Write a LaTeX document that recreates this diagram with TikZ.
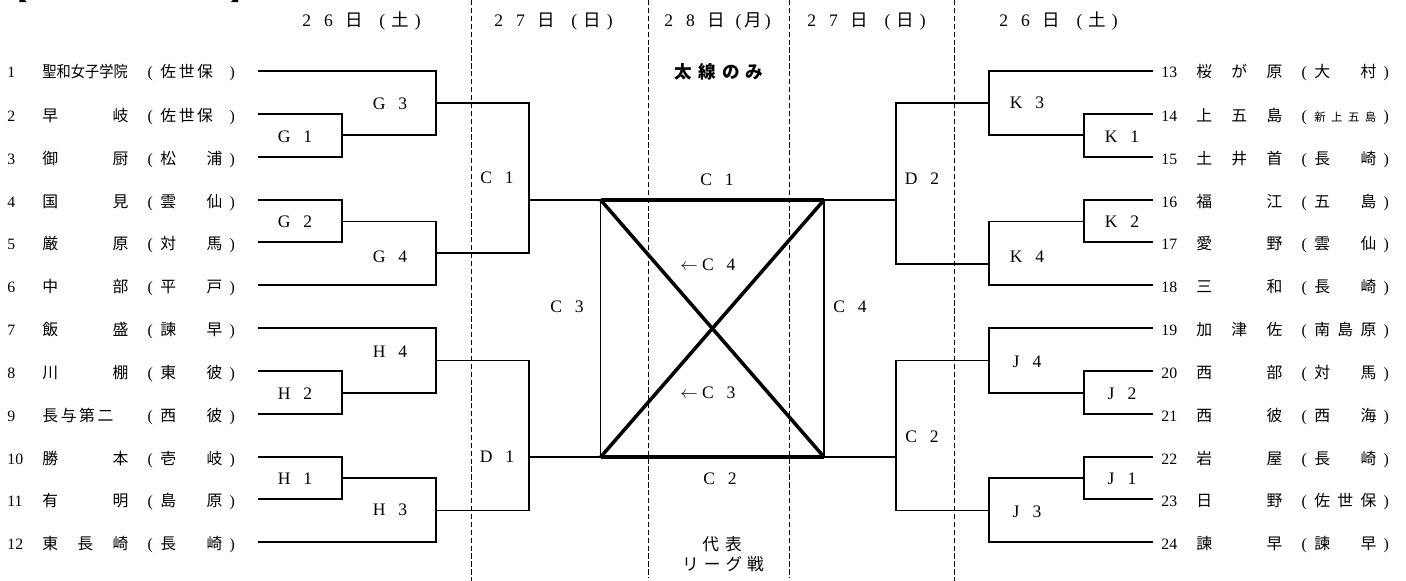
\documentclass[tikz,border=0pt]{standalone}
\usepackage{fontspec}
\usepackage{graphicx}
\setmainfont{Liberation Serif}
\newfontfamily\jp{Noto Sans CJK JP}
\newlength{\unitpx}
\setlength{\unitpx}{0.02cm}
% Zeile: Nummer, Schule, Ort
\newcommand{\team}[3]{\makebox[35\unitpx][l]{#1}\makebox[86\unitpx][l]{\jp #2}\hspace{12\unitpx}\makebox[20\unitpx]{(}\makebox[62\unitpx][l]{\jp #3}\makebox[20\unitpx]{)}}
% Spielbezeichnung
\newcommand{\spiel}[2]{#1\hspace{13\unitpx}#2}
% Datum: Abstaende, Ziffern, Wochentag
\newcommand{\datum}[6]{#4\hspace{#1\unitpx}#5\hspace{#1\unitpx}{\jp 日}\hspace{#2\unitpx}(\hspace{#3\unitpx}{\jp #6}\hspace{#3\unitpx})}
\begin{document}
\begin{tikzpicture}[x=0.02cm, y=-0.02cm,
    linie/.style={line width=0.6pt},
    dick/.style={line width=2pt},
    trenn/.style={line width=0.5pt, dash pattern=on 3pt off 1.5pt},
    mann/.style={anchor=base west, inner sep=0pt, font=\fontsize{9}{11}\selectfont},
    spielnr/.style={inner sep=0pt, font=\fontsize{10}{12}\selectfont},
    kopf/.style={anchor=base west, inner sep=0pt, font=\fontsize{10}{12}\selectfont}]
    \useasboundingbox (0,0) rectangle (1406,581);

    % zeichne Titel (abgeschnitten)
    \node[anchor=base west, inner sep=0pt, font=\jp\fontsize{14}{14}\selectfont] (kl) at (3.5,1) {【};
    \node[anchor=base west, inner sep=0pt, font=\jp\fontsize{14}{14}\selectfont] (kr) at (230,1) {】};

    % zeichne Trennlinien
    \draw[trenn] (471.7,0) -- (471.7,581);
    \draw[trenn] (648.7,0) -- (648.7,578);
    \draw[trenn] (789.3,0) -- (789.3,578);
    \draw[trenn] (954.3,0) -- (954.3,581);

    % zeichne Tage
    \node[kopf] (tag1) at (302,27) {\datum{13}{16}{6}{2}{6}{土}};
    \node[kopf] (tag2) at (494,27) {\datum{13}{16}{6}{2}{7}{日}};
    \node[kopf] (tag3) at (664,27) {\datum{13}{10}{3}{2}{8}{月}};
    \node[kopf] (tag4) at (807,27) {\datum{13}{16}{6}{2}{7}{日}};
    \node[kopf] (tag5) at (999,27) {\datum{13}{16}{6}{2}{6}{土}};

    % zeichne Mannschaften links
    \node[mann] (t1) at (7,78) {\team{1}{\scalebox{0.9}[1]{聖和女子学院}}{佐\,世\,保}};
    \node[mann] (t2) at (7,121) {\team{2}{早\hfill 岐}{佐\,世\,保}};
    \node[mann] (t3) at (7,164) {\team{3}{御\hfill 厨}{松\hfill 浦}};
    \node[mann] (t4) at (7,207) {\team{4}{国\hfill 見}{雲\hfill 仙}};
    \node[mann] (t5) at (7,249) {\team{5}{厳\hfill 原}{対\hfill 馬}};
    \node[mann] (t6) at (7,292) {\team{6}{中\hfill 部}{平\hfill 戸}};
    \node[mann] (t7) at (7,335) {\team{7}{飯\hfill 盛}{諫\hfill 早}};
    \node[mann] (t8) at (7,378) {\team{8}{川\hfill 棚}{東\hfill 彼}};
    \node[mann] (t9) at (7,421) {\team{9}{長\,与\,第\,二}{西\hfill 彼}};
    \node[mann] (t10) at (7,464) {\team{10}{勝\hfill 本}{壱\hfill 岐}};
    \node[mann] (t11) at (7,506) {\team{11}{有\hfill 明}{島\hfill 原}};
    \node[mann] (t12) at (7,549) {\team{12}{東\hfill 長\hfill 崎}{長\hfill 崎}};

    % zeichne Mannschaften rechts
    \node[mann] (t13) at (1161,78) {\team{13}{桜\hfill が\hfill 原}{大\hfill 村}};
    \node[mann] (t14) at (1161,121) {\team{14}{上\hfill 五\hfill 島}{{\fontsize{6.5}{7}\selectfont 新\hfill 上\hfill 五\hfill 島}}};
    \node[mann] (t15) at (1161,164) {\team{15}{土\hfill 井\hfill 首}{長\hfill 崎}};
    \node[mann] (t16) at (1161,207) {\team{16}{福\hfill 江}{五\hfill 島}};
    \node[mann] (t17) at (1161,249) {\team{17}{愛\hfill 野}{雲\hfill 仙}};
    \node[mann] (t18) at (1161,292) {\team{18}{三\hfill 和}{長\hfill 崎}};
    \node[mann] (t19) at (1161,335) {\team{19}{加\hfill 津\hfill 佐}{南\hfill 島\hfill 原}};
    \node[mann] (t20) at (1161,378) {\team{20}{西\hfill 部}{対\hfill 馬}};
    \node[mann] (t21) at (1161,421) {\team{21}{西\hfill 彼}{西\hfill 海}};
    \node[mann] (t22) at (1161,464) {\team{22}{岩\hfill 屋}{長\hfill 崎}};
    \node[mann] (t23) at (1161,506) {\team{23}{日\hfill 野}{佐\hfill 世\hfill 保}};
    \node[mann] (t24) at (1161,549) {\team{24}{諫\hfill 早}{諫\hfill 早}};

    % Anfangspunkte der Linien
    \coordinate (a1) at (258,71);   \coordinate (b13) at (1153,71);
    \coordinate (a2) at (258,114);  \coordinate (b14) at (1153,114);
    \coordinate (a3) at (258,157);  \coordinate (b15) at (1153,157);
    \coordinate (a4) at (258,200);  \coordinate (b16) at (1153,200);
    \coordinate (a5) at (258,242);  \coordinate (b17) at (1153,242);
    \coordinate (a6) at (258,285);  \coordinate (b18) at (1153,285);
    \coordinate (a7) at (258,328);  \coordinate (b19) at (1153,328);
    \coordinate (a8) at (258,371);  \coordinate (b20) at (1153,371);
    \coordinate (a9) at (258,414);  \coordinate (b21) at (1153,414);
    \coordinate (a10) at (258,457); \coordinate (b22) at (1153,457);
    \coordinate (a11) at (258,499); \coordinate (b23) at (1153,499);
    \coordinate (a12) at (258,542); \coordinate (b24) at (1153,542);

    % Knotenpunkte der Spiele
    \coordinate (g1) at (342,135);    \coordinate (k1) at (1084,135);
    \coordinate (g3) at (436,103);    \coordinate (k3) at (989,103);
    \coordinate (g2) at (342,221.7);  \coordinate (k2) at (1084,221.7);
    \coordinate (g4) at (436,253);    \coordinate (k4) at (989,264);
    \coordinate (h4) at (436,360.7);  \coordinate (j4) at (989,360.7);
    \coordinate (h2) at (342,393);    \coordinate (j2) at (1084,393);
    \coordinate (h1) at (342,478);    \coordinate (j1) at (1084,478);
    \coordinate (h3) at (436,510.7);  \coordinate (j3) at (989,510.7);
    \coordinate (c1) at (529,200);    \coordinate (d2) at (896,200);
    \coordinate (d1) at (529,457);    \coordinate (c2) at (896,457);
    \coordinate (nw) at (600.7,200);  \coordinate (ne) at (824,200);
    \coordinate (sw) at (600.7,457);  \coordinate (se) at (824,457);

    % zeichne Turnierbaum links
    \draw[linie] (a2) -| (g1) |- (a3);
    \draw[linie] (a1) -| (g3) |- (g1);
    \draw[linie] (a4) -| (g2) |- (a5);
    \draw[linie] (g2) -| (g4) |- (a6);
    \draw[linie] (g3) -| (c1) |- (g4);
    \draw[linie] (a7) -| (h4) |- (h2);
    \draw[linie] (a8) -| (h2) |- (a9);
    \draw[linie] (a10) -| (h1) |- (a11);
    \draw[linie] (h1) -| (h3) |- (a12);
    \draw[linie] (h4) -| (d1) |- (h3);
    \draw[linie] (c1) -- (nw);
    \draw[linie] (d1) -- (sw);

    % zeichne Turnierbaum rechts
    \draw[linie] (b14) -| (k1) |- (b15);
    \draw[linie] (b13) -| (k3) |- (k1);
    \draw[linie] (b16) -| (k2) |- (b17);
    \draw[linie] (k2) -| (k4) |- (b18);
    \draw[linie] (k3) -| (d2) |- (k4);
    \draw[linie] (b19) -| (j4) |- (j2);
    \draw[linie] (b20) -| (j2) |- (b21);
    \draw[linie] (b22) -| (j1) |- (b23);
    \draw[linie] (j1) -| (j3) |- (b24);
    \draw[linie] (j4) -| (c2) |- (j3);
    \draw[linie] (d2) -- (ne);
    \draw[linie] (c2) -- (se);

    % zeichne Liga
    \draw[linie] (nw) -- (sw);
    \draw[linie] (ne) -- (se);
    \draw[dick] (nw) -- (ne);
    \draw[dick] (sw) -- (se);
    \draw[dick] (nw) -- (se);
    \draw[dick] (ne) -- (sw);

    % zeichne Spielnummern
    \node[spielnr] (lg3) at (390,104) {\spiel{G}{3}};
    \node[spielnr] (lg1) at (295,137) {\spiel{G}{1}};
    \node[spielnr] (lg2) at (295,222) {\spiel{G}{2}};
    \node[spielnr] (lg4) at (390,257) {\spiel{G}{4}};
    \node[spielnr] (lh4) at (390,352) {\spiel{H}{4}};
    \node[spielnr] (lh2) at (295,394) {\spiel{H}{2}};
    \node[spielnr] (lh1) at (295,479) {\spiel{H}{1}};
    \node[spielnr] (lh3) at (390,510) {\spiel{H}{3}};
    \node[spielnr] (lk3) at (1027,103) {\spiel{K}{3}};
    \node[spielnr] (lk1) at (1122,137) {\spiel{K}{1}};
    \node[spielnr] (lk2) at (1122,222) {\spiel{K}{2}};
    \node[spielnr] (lk4) at (1027,257) {\spiel{K}{4}};
    \node[spielnr] (lj4) at (1027,362) {\spiel{J}{4}};
    \node[spielnr] (lj2) at (1122,394) {\spiel{J}{2}};
    \node[spielnr] (lj1) at (1122,479) {\spiel{J}{1}};
    \node[spielnr] (lj3) at (1027,512) {\spiel{J}{3}};
    \node[spielnr] (lc1) at (497,178) {\spiel{C}{1}};
    \node[spielnr] (ld1) at (497,457) {\spiel{D}{1}};
    \node[spielnr] (ld2) at (922,179) {\spiel{D}{2}};
    \node[spielnr] (lc2) at (922,437) {\spiel{C}{2}};

    % zeichne Beschriftung der Liga
    \node[spielnr] (ltop) at (717,180) {\spiel{C}{1}};
    \node[spielnr] (lbot) at (720,479) {\spiel{C}{2}};
    \node[spielnr] (llinks) at (567,307) {\spiel{C}{3}};
    \node[spielnr] (lrechts) at (850,307) {\spiel{C}{4}};
    \node[spielnr] (lpfeil4) at (708,265) {$\leftarrow$\hspace{4\unitpx}\spiel{C}{4}};
    \node[spielnr] (lpfeil3) at (708,393) {$\leftarrow$\hspace{4\unitpx}\spiel{C}{3}};
    \node[inner sep=0pt, font=\jp\bfseries\fontsize{10}{12}\selectfont] (dicklinie) at (719,72) {太\hspace{6\unitpx}線\hspace{6\unitpx}の\hspace{6\unitpx}み};
    \node[inner sep=0pt, font=\jp\fontsize{9.5}{11}\selectfont] (vertreter) at (722,544) {代\hspace{6\unitpx}表};
    \node[inner sep=0pt, font=\jp\fontsize{9.5}{11}\selectfont] (liga) at (723,564) {リ\hspace{5\unitpx}ー\hspace{5\unitpx}グ\hspace{5\unitpx}戦};
\end{tikzpicture}
\end{document}
